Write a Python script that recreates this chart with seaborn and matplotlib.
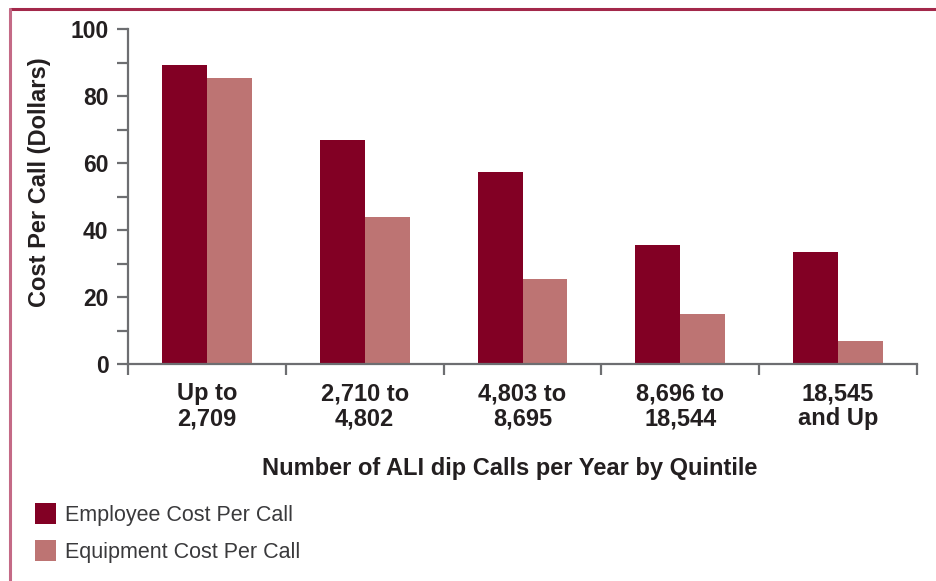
import matplotlib
matplotlib.use("Agg")
import matplotlib.pyplot as plt
import seaborn as sns
import pandas as pd
from matplotlib.patches import Patch
from matplotlib.lines import Line2D

# Call volume quintiles and per-call costs (dollars)
quintiles = ["Up to\n2,709", "2,710 to\n4,802", "4,803 to\n8,695",
             "8,696 to\n18,544", "18,545\nand Up"]
employee_cost = [89.2, 66.9, 57.3, 35.5, 33.4]
equipment_cost = [85.4, 43.9, 25.4, 14.9, 6.9]
series_names = ["Employee Cost Per Call", "Equipment Cost Per Call"]
series_colors = ["#820024", "#bd7473"]

df = pd.DataFrame({
    "quintile": quintiles * 2,
    "cost": employee_cost + equipment_cost,
    "series": [series_names[0]] * len(quintiles) + [series_names[1]] * len(quintiles),
})

sns.set_theme(style="white")
plt.rcParams["font.family"] = ["Liberation Sans", "DejaVu Sans"]
text_color = "#231f20"
axis_color = "#6d6e71"

fig = plt.figure(figsize=(9.37, 5.81), dpi=100)
ax = fig.add_axes([128 / 937, 1 - 364 / 581, (917 - 128) / 937, (364 - 29.3) / 581])

sns.barplot(data=df, x="quintile", y="cost", hue="series",
            palette=series_colors, width=0.57, saturation=1,
            order=quintiles, hue_order=series_names, ax=ax, legend=False)
for p in ax.patches:
    p.set_edgecolor("none")
    p.set_linewidth(0)

ax.set_xlim(-0.5, len(quintiles) - 0.5)
ax.set_ylim(0, 100)
ax.set_xlabel("")
ax.set_ylabel("")

for side in ["top", "right"]:
    ax.spines[side].set_visible(False)
for side in ["left", "bottom"]:
    ax.spines[side].set_color(axis_color)
    ax.spines[side].set_linewidth(1.6)

# y ticks every 10, labels every 20
ax.set_yticks(range(0, 101, 10))
ax.set_yticklabels([str(v) if v % 20 == 0 else "" for v in range(0, 101, 10)])
ax.tick_params(axis="y", direction="out", length=8, width=1.6, color=axis_color,
               labelsize=16.5, labelcolor=text_color, pad=6, left=True)
for lbl in ax.get_yticklabels():
    lbl.set_fontweight("bold")

# x ticks at category boundaries, labels centered on categories
ax.set_xticks([i - 0.5 for i in range(len(quintiles) + 1)])
ax.set_xticklabels([])
ax.set_xticks(range(len(quintiles)), minor=True)
ax.set_xticklabels(quintiles, minor=True)
ax.tick_params(axis="x", which="major", direction="out", length=8, width=1.6,
               color=axis_color, bottom=True)
ax.tick_params(axis="x", which="minor", length=0, labelsize=17,
               labelcolor=text_color, pad=13)
for lbl in ax.get_xticklabels(minor=True):
    lbl.set_fontweight("bold")
    lbl.set_linespacing(1.12)

fig.text(510 / 937, 1 - 468 / 581, "Number of ALI dip Calls per Year by Quintile",
         ha="center", va="center", fontsize=17, fontweight="bold", color=text_color)
fig.text(40 / 937, 1 - 182 / 581, "Cost Per Call (Dollars)", rotation=90,
         ha="center", va="center", fontsize=17, fontweight="bold", color=text_color)

# Legend below the plot
handles = [Patch(facecolor=c, edgecolor="none") for c in series_colors]
leg = fig.legend(handles, series_names, loc="upper left",
                 bbox_to_anchor=(26 / 937, 1 - 494 / 581), frameon=False,
                 fontsize=15.5, handlelength=1.0, handleheight=1.15,
                 handletextpad=0.4, labelspacing=0.65, borderaxespad=0)
for t in leg.get_texts():
    t.set_color("#3a3a3c")
    t.set_fontweight("light")

# Framing rule along the top and left edges
frame_color = "#a3284a"
fig.add_artist(Line2D([10 / 937, 1.0], [1 - 9 / 581, 1 - 9 / 581],
                      transform=fig.transFigure, color=frame_color, linewidth=2.2))
fig.add_artist(Line2D([10 / 937, 10 / 937], [0.0, 1 - 9 / 581],
                      transform=fig.transFigure, color="#c46a86", linewidth=2.2))

fig.savefig("out.png", dpi=100, facecolor="white")
